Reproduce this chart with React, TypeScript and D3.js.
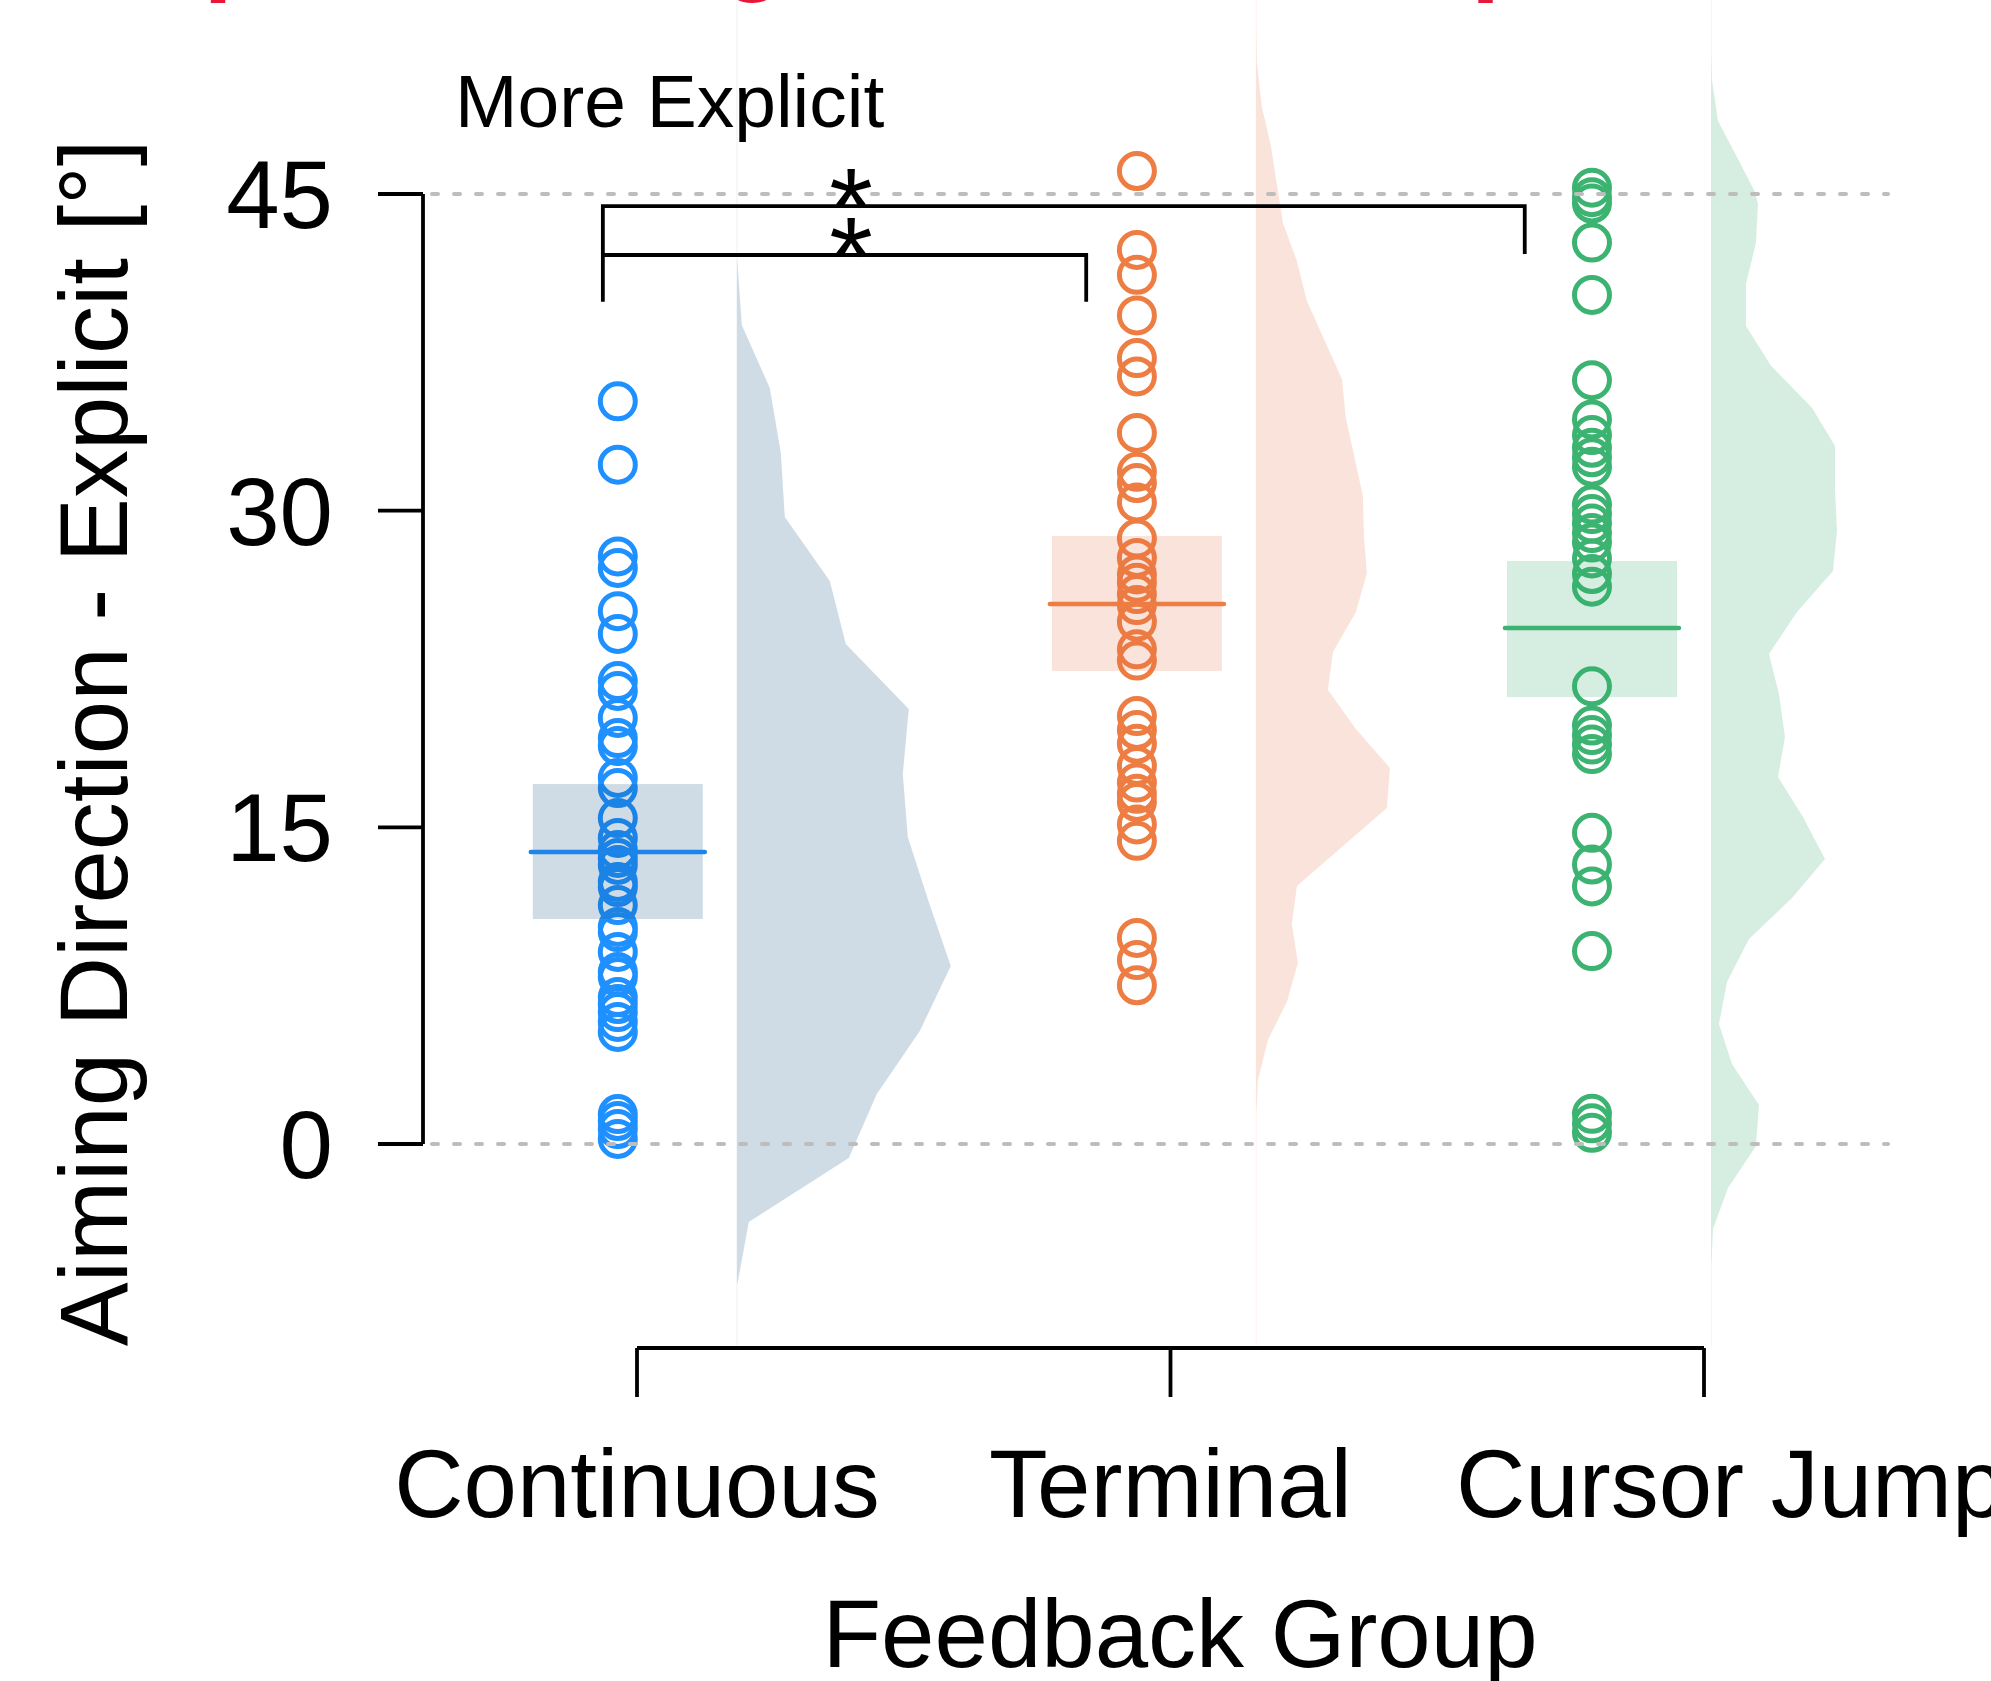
import React from "react";
import * as d3 from "d3";

// ---------------- data ----------------
const groups = ["Continuous", "Terminal", "Cursor Jump"];
const groupColors = ["#1E90FF", "#EE7D43", "#3CB371"];
const meanColors = ["#1C84EA", "#EE7D43", "#3CB371"];
const fillColors = ["rgba(15,80,130,0.2)", "rgba(230,115,70,0.2)", "rgba(45,170,105,0.2)"];
const tickPositions = [1, 2, 3];
const labelPositions = [1, 2, 3.05];
const groupPositions = [0.964, 1.937, 2.79];
const yTicks = [0, 15, 30, 45];
const refLines = [0, 45];

const continuousValues = [35.18, 32.18, 27.83, 27.29, 25.24, 24.16, 21.93, 21.46, 20.18, 19.23, 18.85, 17.34, 16.86, 15.44, 14.5, 13.93, 13.55, 13.22, 12.41, 12.17, 11.32, 10.28, 10.04, 9.1, 8.15, 7.91, 6.96, 6.63, 6.25, 5.78, 5.31, 1.42, 1.09, 0.71, 0.24];
const terminalValues = [46.09, 42.35, 41.17, 39.25, 37.23, 36.36, 33.68, 31.84, 31.31, 30.39, 28.68, 27.76, 26.98, 26.58, 26.05, 25.53, 24.74, 23.43, 22.9, 20.27, 19.61, 18.96, 17.91, 17.12, 16.59, 16.2, 15.14, 14.36, 9.76, 8.71, 7.52];
const cursorValues = [45.3, 44.85, 44.55, 42.7, 40.22, 36.18, 34.32, 33.58, 32.98, 32.53, 32.08, 30.29, 29.84, 29.39, 28.94, 28.49, 27.74, 27.0, 26.4, 21.68, 19.82, 19.37, 18.92, 18.47, 14.74, 13.24, 12.2, 9.14, 1.43, 0.98, 0.53];

const means = [13.83, 25.58, 24.44];
const ciLower = [10.66, 22.41, 21.17];
const ciUpper = [17.05, 28.8, 27.62];

const continuousDensityAt = [54.2, 41.92, 38.8, 35.81, 32.73, 29.7, 26.67, 23.69, 20.61, 17.53, 14.54, 11.46, 8.43, 5.35, 2.37, -0.66, -3.69, -6.68, -9.6];
const continuousDensity = [0.2, 0.2, 2.5, 16.5, 22, 24, 46.5, 54.5, 86, 83, 85.5, 96, 107, 91.5, 70, 56, 6, 0.2, 0.2];

const terminalDensityAt = [54.2, 53.01, 51.23, 49.12, 47.28, 43.63, 41.83, 39.93, 36.24, 34.39, 30.7, 28.8, 27.05, 25.2, 23.31, 21.51, 19.66, 17.81, 15.92, 12.22, 10.42, 8.57, 6.73, 4.93, 3.03, 1.33, -9.6];
const terminalDensity = [0.2, 0.2, 0.5, 3, 7.5, 13.5, 20.5, 25.5, 43, 45, 53.5, 54, 55.5, 50, 38.5, 36, 50, 67, 65.5, 20.5, 18, 21, 15.5, 6, 1, 0.2, 0.2];

const cursorDensityAt = [54.2, 51.78, 50.4, 48.46, 46.66, 45.1, 44.53, 42.68, 40.74, 38.75, 36.86, 34.87, 33.07, 31.03, 29.04, 27.14, 25.2, 23.21, 21.32, 19.28, 17.39, 15.49, 13.5, 11.65, 9.71, 7.67, 5.68, 3.79, 1.85, -0.09, -2.08, -4.03, -5.87, -9.6];
const cursorDensity = [0.2, 0.2, 0.5, 3.5, 13.5, 22, 23.5, 22.5, 17.5, 17.5, 30, 50.5, 62, 62, 63, 61, 43, 29, 34, 37, 33.5, 46, 57, 40.5, 19, 8, 4, 10.5, 24, 22.5, 8.5, 1, 0.2, 0.2];

const bracketStart = [0.936, 0.936];
const bracketEnd = [2.664, 1.842];
const bracketTop = [44.43, 42.11];
const bracketLegBottom = [42.16, 39.9];
const bracketLabels = ["*", "*"];
const starPosition = 1.401;

const titleWords = ["Explicit", "Aiming", "Across Groups"];
const titleWordStarts = [75, 430, 835];
const yLabel = "Aiming Direction - Explicit [°]";
const xLabel = "Feedback Group";
const annotation = "More Explicit";

// ---------------- chart ----------------
const W = 1991;
const H = 1681;
const FONT = "'Liberation Sans', Arial, Helvetica, sans-serif";

export default function App() {
  const y = d3.scaleLinear().domain([0, 45]).range([1144, 194]);
  const x = d3.scaleLinear().domain([1, 3]).range([637, 1704]);
  const dens = d3.scaleLinear().domain([0, 100]).range([0, 200]);

  const values = [continuousValues, terminalValues, cursorValues];
  const densAt = [continuousDensityAt, terminalDensityAt, cursorDensityAt];
  const densV = [continuousDensity, terminalDensity, cursorDensity];

  const boxHalf = 85;
  const lineHalf = 87;
  const densOffset = 119;
  const r = 17.5;
  const axisW = 3.8;

  return (
    <svg width={W} height={H} style={{ position: "absolute", left: 0, top: 0, display: "block", background: "#fff" }} fontFamily={FONT}>
      <rect x={0} y={0} width={W} height={H} fill="#fff" />
      {/* title (mostly outside the picture) */}
      <text y={-19} fontSize={105} fontWeight="bold" fill="#E8173A">
        {titleWords.map((w, i) => (
          <tspan key={w} x={titleWordStarts[i]}>{w}</tspan>
        ))}
      </text>

      {/* densities */}
      {groups.map((g, i) => {
        const base = x(groupPositions[i]) + densOffset;
        const pts = densAt[i].map((v, k) => [v, densV[i][k]] as [number, number]);
        const area = d3
          .area<[number, number]>()
          .y((d) => y(d[0]))
          .x0(base)
          .x1((d) => base + dens(d[1]))
          .curve(d3.curveLinear);
        return <path key={"d" + g} d={area(pts) || ""} fill={fillColors[i]} stroke="none" />;
      })}

      {/* points */}
      {groups.map((g, i) => (
        <g key={"p" + g}>
          {values[i].map((v, k) => (
            <circle key={k} cx={x(groupPositions[i])} cy={y(v)} r={r} fill="none" stroke={groupColors[i]} strokeWidth={5} />
          ))}
        </g>
      ))}

      {/* CI boxes and means */}
      {groups.map((g, i) => {
        const cx = x(groupPositions[i]);
        return (
          <g key={"b" + g}>
            <rect x={cx - boxHalf} y={y(ciUpper[i])} width={boxHalf * 2} height={y(ciLower[i]) - y(ciUpper[i])} fill={fillColors[i]} />
            <line x1={cx - lineHalf} x2={cx + lineHalf} y1={y(means[i])} y2={y(means[i])} stroke={meanColors[i]} strokeWidth={4.5} strokeLinecap="round" />
          </g>
        );
      })}

      {/* y axis */}
      <line x1={423} x2={423} y1={y(45)} y2={y(0)} stroke="#000" strokeWidth={axisW} />
      {yTicks.map((t) => (
        <g key={"yt" + t}>
          <line x1={378} x2={423} y1={y(t)} y2={y(t)} stroke="#000" strokeWidth={axisW} />
          <text x={333} y={y(t) + 34} fontSize={96} textAnchor="end" fill="#000">{t}</text>
        </g>
      ))}
      <text transform={`translate(127,743) rotate(-90)`} fontSize={96} textAnchor="middle" fill="#000">{yLabel}</text>

      {/* x axis */}
      <line x1={x(1)} x2={x(3)} y1={1348} y2={1348} stroke="#000" strokeWidth={axisW} />
      {tickPositions.map((t, i) => (
        <g key={"xt" + t}>
          <line x1={x(t)} x2={x(t)} y1={1348} y2={1397} stroke="#000" strokeWidth={axisW} />
          <text x={x(labelPositions[i])} y={1517} fontSize={96} textAnchor="middle" fill="#000">{groups[i]}</text>
        </g>
      ))}
      <text x={1180} y={1667} fontSize={96} textAnchor="middle" fill="#000">{xLabel}</text>

      {/* reference lines */}
      {refLines.map((v) => (
        <line key={"ref" + v} x1={432} x2={1888} y1={y(v)} y2={y(v)} stroke="#BDBDBD" strokeWidth={4} strokeDasharray="6 16" strokeLinecap="round" />
      ))}

      {/* significance brackets */}
      {bracketStart.map((s, i) => (
        <g key={"br" + i}>
          <path
            d={`M${x(s)},${y(bracketLegBottom[i])}L${x(s)},${y(bracketTop[i])}L${x(bracketEnd[i])},${y(bracketTop[i])}L${x(bracketEnd[i])},${y(bracketLegBottom[i])}`}
            fill="none"
            stroke="#000"
            strokeWidth={axisW}
          />
          <text x={x(starPosition)} y={y(bracketTop[i]) + 40} fontSize={112} textAnchor="middle" fill="#000">{bracketLabels[i]}</text>
        </g>
      ))}

      <text x={455} y={127} fontSize={75} fill="#000">{annotation}</text>
    </svg>
  );
}
